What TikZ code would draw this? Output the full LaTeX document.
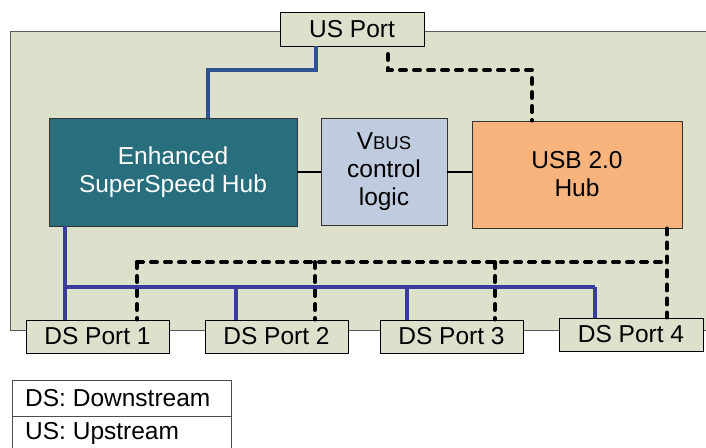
\documentclass[tikz,border=0pt]{standalone}
\usepackage{fontspec}
\setmainfont{Liberation Sans}
\begin{document}
\begin{tikzpicture}[x=1pt,y=-1pt,
  every node/.style={font=\fontsize{24.5}{28}\selectfont, inner sep=0pt, align=center},
  portbox/.style={draw=black, line width=0.9pt, fill=chipgreen, minimum width=143pt, minimum height=33pt},
  blk/.style={draw=black!80, line width=0.9pt},
  busU/.style={draw=busblue, line width=4pt},
  busD/.style={draw=busblue2, line width=4pt},
  ctl/.style={draw=black, line width=4pt, line cap=round, dash pattern=on 6pt off 8pt},
  link/.style={draw=black, line width=2.6pt}]
\definecolor{chipgreen}{HTML}{DDE1CB}
\definecolor{hubteal}{HTML}{296E7D}
\definecolor{vbusblue}{HTML}{BFCCDF}
\definecolor{usborange}{HTML}{F8B47C}
\definecolor{busblue}{HTML}{2E5290}
\definecolor{busblue2}{HTML}{3A3CA0}
\useasboundingbox (0,0) rectangle (706,447);
% chip background
\filldraw[fill=chipgreen, draw=black!65, line width=0.9pt] (10,31) rectangle (720,330);
% blocks
\node[portbox, minimum width=144pt, minimum height=34pt] (us) at (352,29) {US Port};
\node[blk, fill=hubteal, text=white, minimum width=248pt, minimum height=108pt] (hub) at (173,172) {Enhanced\\SuperSpeed Hub};
\node[blk, fill=vbusblue, minimum width=126pt, minimum height=107pt] (vbus) at (384,171.5) {V{\fontsize{18.5}{28}\selectfont BUS}\\control\\logic};
\node[blk, fill=usborange, minimum width=210pt, minimum height=107pt] (usb) at (577,174.5) {USB 2.0\\Hub};
\node[portbox] (ds1) at (97.5,336.5) {DS Port 1};
\node[portbox] (ds2) at (276.5,336.5) {DS Port 2};
\node[portbox] (ds3) at (451.5,336.5) {DS Port 3};
\node[portbox, minimum width=144pt] (ds4) at (631,334.5) {DS Port 4};
% coordinates for connector x positions
\coordinate (xa) at (316,0);
\coordinate (xb) at (208,0);
\coordinate (xc) at (388,54);
\coordinate (xd) at (532,0);
\coordinate (x1) at (65,0);
\coordinate (x2) at (236,0);
\coordinate (x3) at (407,0);
\coordinate (x4) at (595,0);
\coordinate (y1) at (137,0);
\coordinate (y2) at (315,0);
\coordinate (y3) at (495,0);
\coordinate (y4) at (667,0);
% upper links
\draw[busU] (us.south -| xa) -- (316,70) -| (hub.north -| xb);
\draw[ctl] (xc) -- (388,70) -| (usb.north -| xd);
\draw[link] (hub.east |- 0,172) -- (vbus.west |- 0,172);
\draw[link] (vbus.east |- 0,172) -- (usb.west |- 0,172);
% dotted lower control lines
\draw[ctl] (usb.south -| y4) -- (ds4.north -| y4);
\draw[ctl] (137,262) -- (667,262);
\draw[ctl] (137,262) -- (ds1.north -| y1);
\draw[ctl] (315,262) -- (ds2.north -| y2);
\draw[ctl] (495,262) -- (ds3.north -| y3);
% blue bus
\draw[busD] (hub.south -| x1) -- (ds1.north -| x1);
\draw[busD] (65,287) -- (595,287);
\draw[busD] (236,287) -- (ds2.north -| x2);
\draw[busD] (407,287) -- (ds3.north -| x3);
\draw[busD] (595,287) -- (ds4.north -| x4);
% legend
\node[anchor=west] (leg1) at (25,398) {DS: Downstream};
\node[anchor=west] (leg2) at (25,433) {US: Upstream};
\draw[black!70, line width=0.9pt] (12,448) -- (12,380) -- (231,380) -- (231,448);
\draw[black!70, line width=0.9pt] (12,416) -- (231,416);
\end{tikzpicture}
\end{document}
